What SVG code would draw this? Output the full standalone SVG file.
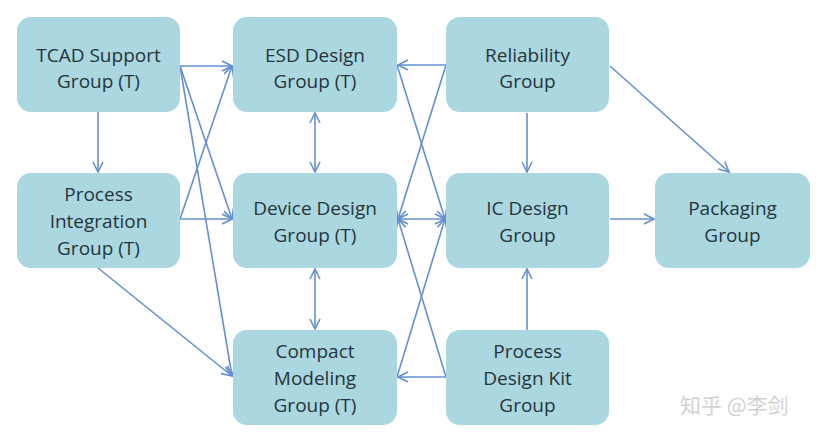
<svg xmlns="http://www.w3.org/2000/svg" width="831" height="439" viewBox="0 0 831 439">
<defs>
<style>
.box{fill:#aad7e0;}
.lbl{font-family:"Open Sans","Liberation Sans",sans-serif;font-size:19px;fill:#26343b;text-anchor:middle;}
.c{stroke:#6590d0;stroke-width:1.6;fill:none;}
.wm{font-family:"Noto Sans CJK SC",sans-serif;font-size:21px;fill:#d2d2d2;}
</style>
<marker id="ah" viewBox="0 0 12 12" refX="11" refY="6" markerWidth="12" markerHeight="12" markerUnits="userSpaceOnUse" orient="auto-start-reverse">
<path d="M1,1 L11,6 L1,11" fill="none" stroke="#6590d0" stroke-width="1.6"/>
</marker>
</defs>
<rect width="831" height="439" fill="#ffffff"/>
<g id="connectors">
<line class="c" x1="98" y1="112" x2="98" y2="172" marker-end="url(#ah)"/>
<line class="c" x1="180" y1="66" x2="232" y2="66" marker-end="url(#ah)"/>
<line class="c" x1="180" y1="66" x2="232" y2="219" marker-end="url(#ah)"/>
<line class="c" x1="180" y1="66" x2="232" y2="376" marker-end="url(#ah)"/>
<line class="c" x1="180" y1="219" x2="232" y2="219" marker-end="url(#ah)"/>
<line class="c" x1="180" y1="219" x2="232" y2="66" marker-end="url(#ah)"/>
<line class="c" x1="98" y1="268" x2="232" y2="376" marker-end="url(#ah)"/>
<line class="c" x1="315" y1="113" x2="315" y2="172" marker-start="url(#ah)" marker-end="url(#ah)"/>
<line class="c" x1="315" y1="269" x2="315" y2="329" marker-start="url(#ah)" marker-end="url(#ah)"/>
<line class="c" x1="446" y1="65" x2="398" y2="65" marker-end="url(#ah)"/>
<line class="c" x1="446" y1="65" x2="398" y2="219" marker-end="url(#ah)"/>
<line class="c" x1="397" y1="65" x2="445" y2="219" marker-end="url(#ah)"/>
<line class="c" x1="398" y1="219" x2="445" y2="219" marker-start="url(#ah)" marker-end="url(#ah)"/>
<line class="c" x1="446" y1="377" x2="398" y2="219" marker-end="url(#ah)"/>
<line class="c" x1="397" y1="377" x2="445" y2="219" marker-end="url(#ah)"/>
<line class="c" x1="446" y1="377" x2="398" y2="377" marker-end="url(#ah)"/>
<line class="c" x1="527" y1="113" x2="527" y2="172" marker-end="url(#ah)"/>
<line class="c" x1="527" y1="330" x2="527" y2="269" marker-end="url(#ah)"/>
<line class="c" x1="610" y1="219" x2="654" y2="219" marker-end="url(#ah)"/>
<line class="c" x1="610" y1="66" x2="729" y2="172" marker-end="url(#ah)"/>
</g>
<g id="tcad"><rect class="box" x="17" y="17" width="163" height="95" rx="14"/><text class="lbl" x="98.5" y="62">TCAD Support</text><text class="lbl" x="98.5" y="88">Group (T)</text></g>
<g id="pi"><rect class="box" x="17" y="173" width="163" height="95" rx="14"/><text class="lbl" x="98.5" y="201">Process</text><text class="lbl" x="98.5" y="228">Integration</text><text class="lbl" x="98.5" y="255">Group (T)</text></g>
<g id="esd"><rect class="box" x="233" y="17" width="164" height="95" rx="14"/><text class="lbl" x="315" y="62">ESD Design</text><text class="lbl" x="315" y="88">Group (T)</text></g>
<g id="device"><rect class="box" x="233" y="173" width="164" height="95" rx="14"/><text class="lbl" x="315" y="215">Device Design</text><text class="lbl" x="315" y="242">Group (T)</text></g>
<g id="compact"><rect class="box" x="233" y="330" width="164" height="95" rx="14"/><text class="lbl" x="315" y="358">Compact</text><text class="lbl" x="315" y="385">Modeling</text><text class="lbl" x="315" y="412">Group (T)</text></g>
<g id="reliability"><rect class="box" x="446" y="17" width="163" height="95" rx="14"/><text class="lbl" x="527.5" y="62">Reliability</text><text class="lbl" x="527.5" y="88">Group</text></g>
<g id="ic"><rect class="box" x="446" y="173" width="163" height="95" rx="14"/><text class="lbl" x="527.5" y="215">IC Design</text><text class="lbl" x="527.5" y="242">Group</text></g>
<g id="pdk"><rect class="box" x="446" y="330" width="163" height="95" rx="14"/><text class="lbl" x="527.5" y="358">Process</text><text class="lbl" x="527.5" y="385">Design Kit</text><text class="lbl" x="527.5" y="412">Group</text></g>
<g id="packaging"><rect class="box" x="655" y="173" width="155" height="95" rx="14"/><text class="lbl" x="732.5" y="215">Packaging</text><text class="lbl" x="732.5" y="242">Group</text></g>
<text class="wm" x="680" y="413">知乎 @李剑</text>
</svg>
